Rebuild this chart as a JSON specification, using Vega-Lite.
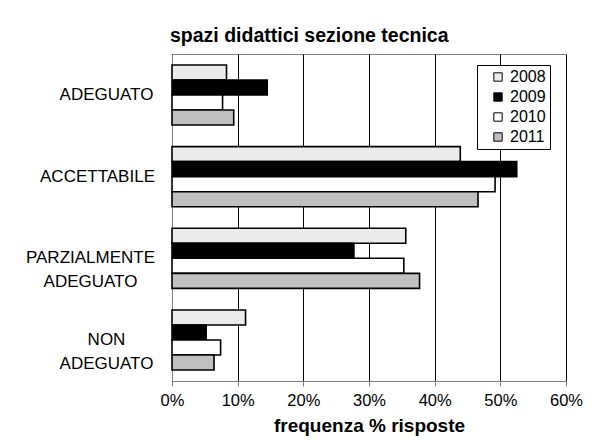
{
  "$schema": "https://vega.github.io/schema/vega-lite/v6.json",
  "autosize": "none",
  "width": 394,
  "height": 327,
  "padding": {"left": 172, "top": 54, "right": 26, "bottom": 67},
  "background": "white",
  "title": {
    "text": "spazi didattici sezione tecnica",
    "anchor": "start",
    "frame": "group",
    "dx": -2,
    "offset": 8,
    "font": "Liberation Sans",
    "fontSize": 19.5,
    "fontWeight": "bold",
    "color": "black"
  },
  "data": {
    "values": [
      {"categoria": "ADEGUATO", "anno": "2008", "valore": 8.3},
      {"categoria": "ADEGUATO", "anno": "2009", "valore": 14.5},
      {"categoria": "ADEGUATO", "anno": "2010", "valore": 7.7},
      {"categoria": "ADEGUATO", "anno": "2011", "valore": 9.4},
      {"categoria": "ACCETTABILE", "anno": "2008", "valore": 43.9},
      {"categoria": "ACCETTABILE", "anno": "2009", "valore": 52.5},
      {"categoria": "ACCETTABILE", "anno": "2010", "valore": 49.2},
      {"categoria": "ACCETTABILE", "anno": "2011", "valore": 46.6},
      {"categoria": "PARZIALMENTE ADEGUATO", "anno": "2008", "valore": 35.6},
      {"categoria": "PARZIALMENTE ADEGUATO", "anno": "2009", "valore": 27.7},
      {"categoria": "PARZIALMENTE ADEGUATO", "anno": "2010", "valore": 35.3},
      {"categoria": "PARZIALMENTE ADEGUATO", "anno": "2011", "valore": 37.7},
      {"categoria": "NON ADEGUATO", "anno": "2008", "valore": 11.2},
      {"categoria": "NON ADEGUATO", "anno": "2009", "valore": 5.2},
      {"categoria": "NON ADEGUATO", "anno": "2010", "valore": 7.4},
      {"categoria": "NON ADEGUATO", "anno": "2011", "valore": 6.4}
    ]
  },
  "mark": {"type": "bar", "stroke": "black", "strokeWidth": 1.6},
  "encoding": {
    "y": {
      "field": "categoria",
      "type": "nominal",
      "sort": ["ADEGUATO", "ACCETTABILE", "PARZIALMENTE ADEGUATO", "NON ADEGUATO"],
      "scale": {"paddingInner": 0.265, "paddingOuter": 0.135},
      "axis": {
        "title": null,
        "ticks": false,
        "domainColor": "#808080",
        "labelAlign": "center",
        "labelBaseline": "middle",
        "labelFont": "Liberation Sans",
        "labelFontSize": 17,
        "labelColor": "black",
        "labelLineHeight": 24,
        "labelPadding": {"condition": [
          {"test": "datum.value == 'ACCETTABILE'", "value": 75},
          {"test": "datum.value == 'PARZIALMENTE ADEGUATO'", "value": 82}
        ], "value": 66},
        "labelExpr": "datum.value == 'PARZIALMENTE ADEGUATO' ? ['PARZIALMENTE', 'ADEGUATO'] : datum.value == 'NON ADEGUATO' ? ['NON', 'ADEGUATO'] : datum.value"
      }
    },
    "yOffset": {
      "field": "anno",
      "type": "nominal",
      "scale": {"paddingInner": 0, "paddingOuter": 0}
    },
    "x": {
      "field": "valore",
      "type": "quantitative",
      "scale": {"domain": [0, 60], "nice": false},
      "axis": {
        "title": "frequenza % risposte",
        "titleFont": "Liberation Sans",
        "titleFontSize": 19,
        "titleFontWeight": "bold",
        "titleColor": "black",
        "titlePadding": 8,
        "values": [0, 10, 20, 30, 40, 50, 60],
        "labelExpr": "datum.value + '%'",
        "labelFont": "Liberation Sans",
        "labelFontSize": 16.5,
        "labelColor": "black",
        "labelPadding": 6,
        "labelFlush": false,
        "tickColor": "#808080",
        "tickSize": 5,
        "domainColor": "#808080",
        "grid": true,
        "gridColor": "black",
        "gridWidth": 1
      }
    },
    "fill": {
      "field": "anno",
      "type": "nominal",
      "scale": {"domain": ["2008", "2009", "2010", "2011"], "range": ["#ebebeb", "#000000", "#ffffff", "#c0c0c0"]},
      "legend": {
        "title": null,
        "orient": "none",
        "legendX": 305,
        "legendY": 11,
        "strokeColor": "black",
        "fillColor": "white",
        "padding": 4,
        "symbolOffset": 9,
        "symbolType": "square",
        "symbolSize": 70,
        "symbolStrokeColor": "black",
        "symbolStrokeWidth": 1,
        "labelFont": "Liberation Sans",
        "labelFontSize": 16,
        "labelColor": "black",
        "rowPadding": 4,
        "labelOffset": 4
      }
    }
  },
  "config": {
    "view": {"stroke": "#808080", "strokeWidth": 1}
  }
}
